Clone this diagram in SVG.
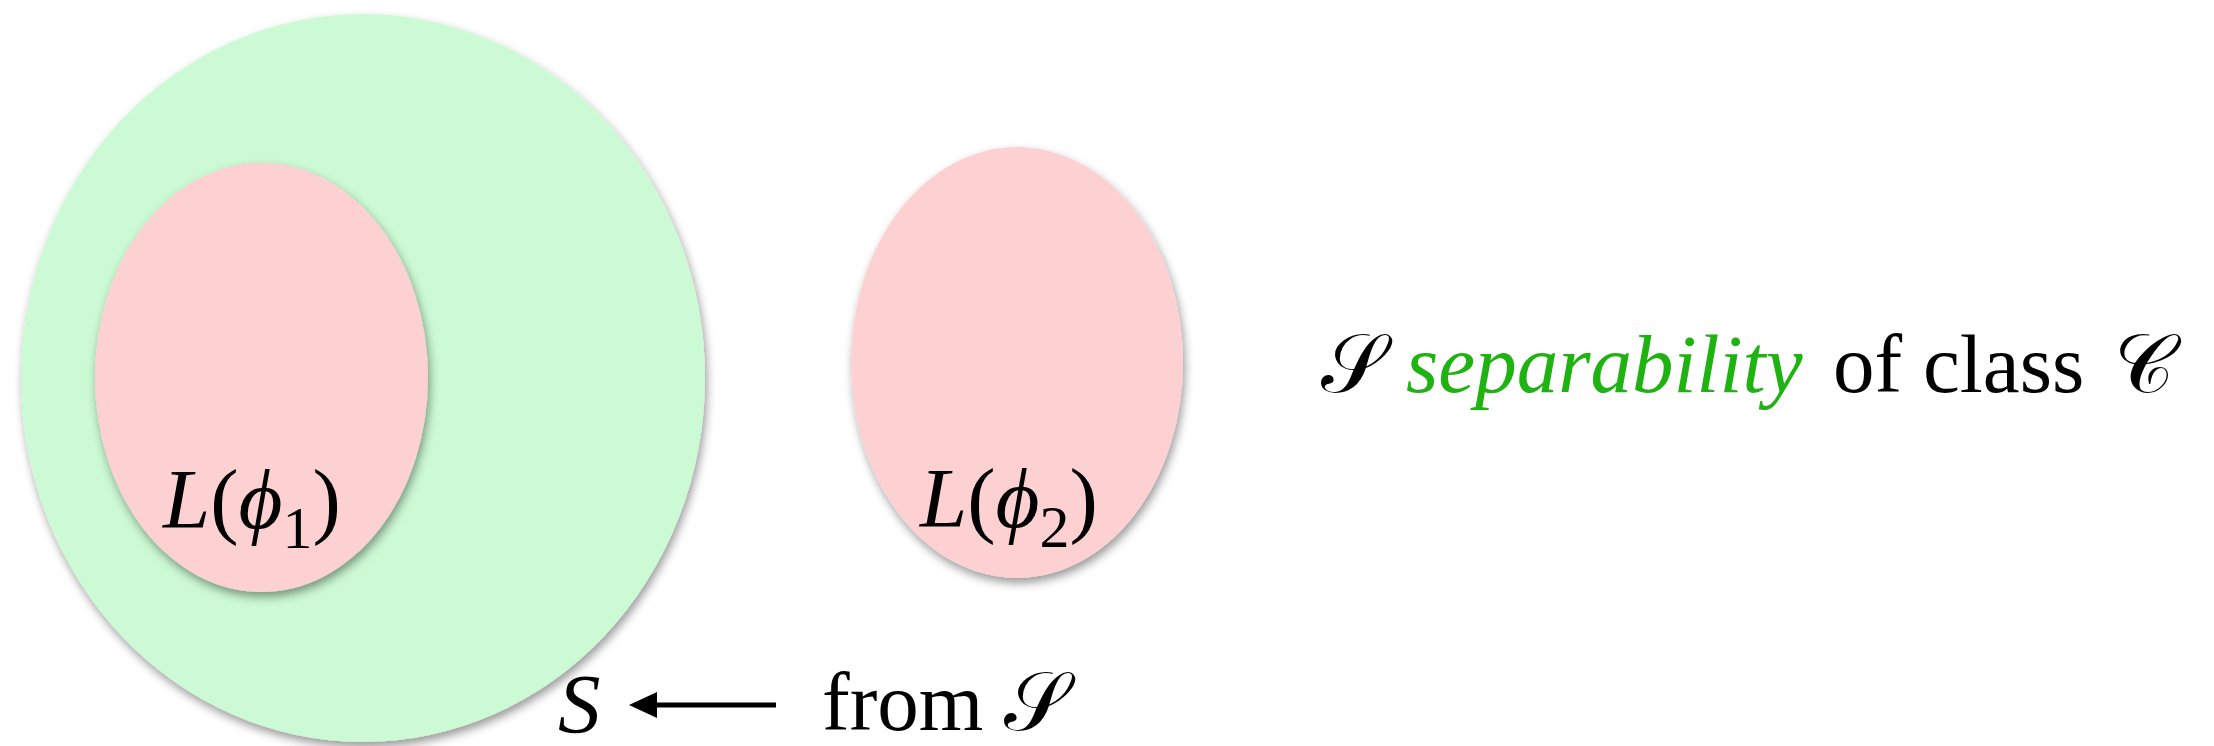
<svg xmlns="http://www.w3.org/2000/svg" width="2214" height="746" viewBox="0 0 2214 746">
<style>
  .serif { font-family: "Liberation Serif", "DejaVu Serif", serif; fill: #000; }
  .math { font-family: "DejaVu Serif", "Liberation Serif", "Noto Sans", serif; }
  .it { font-style: italic; }
  .green { fill: #ccfad4; }
  .pink { fill: #fdd0d2; }
  .gtext { fill: #1fb312; }
</style>
<defs>
  <filter id="shadow" x="-10%" y="-10%" width="120%" height="125%">
    <feDropShadow dx="2" dy="5" stdDeviation="5" flood-color="#000" flood-opacity="0.4"/>
  </filter>
  <marker id="arrowhead" markerUnits="userSpaceOnUse" markerWidth="28" markerHeight="26" viewBox="0 0 28 26" refX="17" refY="13" orient="auto">
    <path d="M0,0 L28,13 L0,26 Z" fill="#000"/>
  </marker>
</defs>
<rect width="2214" height="746" fill="#fff"/>

<g id="node-S">
  <ellipse class="green" cx="363" cy="378" rx="342" ry="364" filter="url(#shadow)"/>
</g>
<g id="node-L1">
  <ellipse class="pink" cx="261.5" cy="377.5" rx="166.5" ry="214.5" filter="url(#shadow)"/>
  <text class="serif" x="163" y="528" font-size="85"><tspan class="it">L</tspan>(<tspan class="it">ϕ</tspan><tspan font-size="60" dy="20">1</tspan><tspan dy="-20">)</tspan></text>
</g>
<g id="node-L2">
  <ellipse class="pink" cx="1017" cy="362.5" rx="166" ry="215.5" filter="url(#shadow)"/>
  <text class="serif" x="920" y="527" font-size="85"><tspan class="it">L</tspan>(<tspan class="it">ϕ</tspan><tspan font-size="60" dy="20">2</tspan><tspan dy="-20">)</tspan></text>
</g>

<g id="connectors">
  <line x1="776" y1="705" x2="640" y2="705" stroke="#000" stroke-width="5" marker-end="url(#arrowhead)"/>
</g>

<g id="label-bottom">
  <text class="serif it" x="558" y="733" font-size="85">S</text>
  <text class="serif" x="822" y="730" font-size="83">from <tspan class="math">𝒮</tspan></text>
</g>

<g id="label-right">
  <text class="serif math" x="1321" y="392" font-size="83">𝒮</text>
  <text class="serif it gtext" x="1406" y="392" font-size="83">separability</text>
  <text class="serif" x="1833" y="392" font-size="83">of class</text>
  <text class="serif math" x="2114" y="392" font-size="83">𝒞</text>
</g>
</svg>
